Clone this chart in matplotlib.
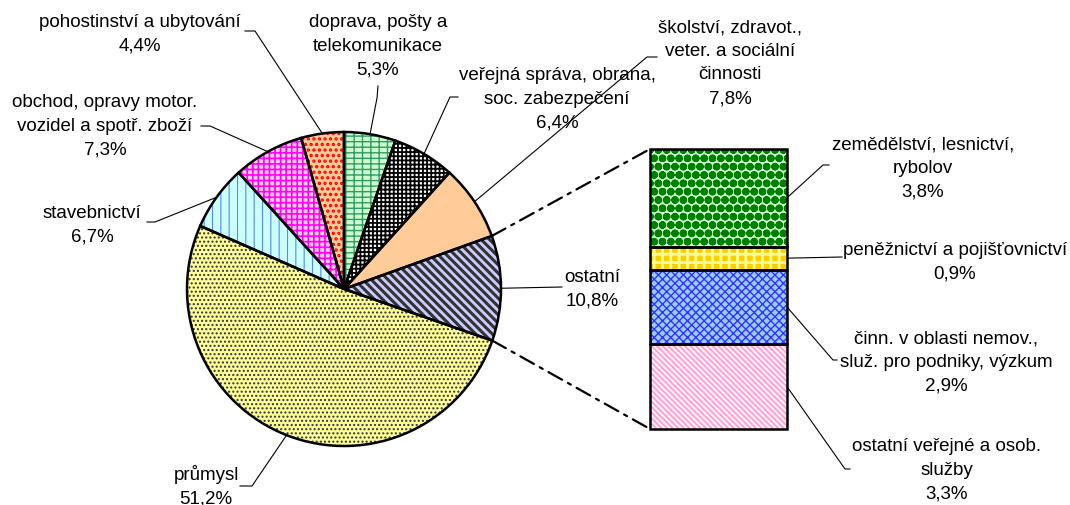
import matplotlib
matplotlib.use('Agg')
import matplotlib.pyplot as plt
from matplotlib.patches import ConnectionPatch
import numpy as np

plt.rcParams['font.family'] = ['Liberation Sans', 'DejaVu Sans']
plt.rcParams['hatch.linewidth'] = 1.2

# ---------------- data ----------------
pie_labels = ["doprava, pošty a\ntelekomunikace",
              "veřejná správa, obrana,\nsoc. zabezpečení",
              "školství, zdravot.,\nveter. a sociální\nčinnosti",
              "ostatní",
              "průmysl",
              "stavebnictví",
              "obchod, opravy motor.\nvozidel a spotř. zboží",
              "pohostinství a ubytování"]
pie_values = [5.3, 6.4, 7.8, 10.8, 51.2, 6.7, 7.3, 4.4]

bar_labels = ["zemědělství, lesnictví,\nrybolov",
              "peněžnictví a pojišťovnictví",
              "činn. v oblasti nemov.,\nsluž. pro podniky, výzkum",
              "ostatní veřejné a osob.\nslužby"]
bar_values = [3.8, 0.9, 2.9, 3.3]   # top to bottom

# ---------------- styles ----------------
pie_face = ['#CCFFCC', '#FFFFFF', '#FFCC99', '#CCCCFF', '#FFFF99', '#CCFFFF', '#FFCCE6', '#FFCC99']
pie_hatch = ['++-', '++++', None, '\\\\\\\\', '....', '||', '+++', '...']
pie_hcol = ['#339966', '#000000', '#FFCC99', '#333333', '#333333', '#5588FF', '#FF00FF', '#FF0000']
pie_hlw = [1.0, 1.3, 1.0, 2.2, 1.0, 0.8, 1.2, 1.6]

bar_face = ['#CCFFCC', '#FFCC00', '#99CCFF', '#FFF0F8']
bar_hatch = ['OO..', '++', 'xxxx', '\\\\\\\\\\\\']
bar_hcol = ['#008000', '#FFFF99', '#3333FF', '#FF99CC']
bar_hlw = [1.3, 2.0, 1.0, 1.2]

# label layout in pixel coordinates: (x centre, first baseline, leader elbow points)
pie_layout = [(378, 27, [(378, 87), (377, 99)]),
              (557, 80, [(458, 98), (450, 98)]),
              (730, 32, [(657, 58), (647, 58)]),
              (592, 282, [(562, 288)]),
              (206, 480, [(240, 487), (252, 487)]),
              (92, 218, [(147, 223), (155, 223)]),
              (105, 107, [(201, 127), (210, 127)]),
              (140, 27, [(245, 32), (255, 32)])]
bar_layout = [(923, 149, [(829, 166), (823, 166)]),
              (955, 255, [(842, 258)]),
              (946, 343, [(837, 361), (833, 361)]),
              (947, 451, [(850, 470), (845, 470)])]

W, H = 1070, 506
FS = 13.5
LINE = 23.7

fig = plt.figure(figsize=(W / 100, H / 100), dpi=100)
ax = fig.add_axes([0, 0, 1, 1])

center = (344, 290)
radius = 157
common = dict(startangle=-90, counterclock=True, center=center, radius=radius)

# fill
wedges, _ = ax.pie(pie_values, colors=pie_face, wedgeprops=dict(linewidth=0), **common)
# hatch overlay
hw, _ = ax.pie(pie_values, wedgeprops=dict(fill=False, linewidth=0), **common)
for w, h, c, lw in zip(hw, pie_hatch, pie_hcol, pie_hlw):
    w.set_edgecolor(c)
    w.set_linewidth(0)
    if h:
        w.set_hatch(h)
        if hasattr(w, 'set_hatch_linewidth'):
            w.set_hatch_linewidth(lw)
# outline
ow, _ = ax.pie(pie_values, wedgeprops=dict(fill=False, edgecolor='black', linewidth=1.8), **common)

ax.set_aspect('auto')
ax.set_xlim(0, W)
ax.set_ylim(H, 0)
ax.axis('off')


def fmt(v):
    return f"{v:.1f}".replace('.', ',') + '%'


def draw_label(x, y0, text):
    for i, line in enumerate(text.split('\n')):
        ax.text(x, y0 + i * LINE, line, ha='center', va='baseline', fontsize=FS, color='black')


for w, lab, v, (x, y0, elbow) in zip(wedges, pie_labels, pie_values, pie_layout):
    draw_label(x, y0, lab + '\n' + fmt(v))
    th = np.deg2rad((w.theta1 + w.theta2) / 2)
    edge = (w.center[0] + w.r * np.cos(th), w.center[1] + w.r * np.sin(th))
    pts = elbow + [edge]
    ax.plot([p[0] for p in pts], [p[1] for p in pts], color='black', lw=0.8)

# ---------------- bar of pie ----------------
bx0, bx1, by0, by1 = 650, 787, 150, 430
ax2 = fig.add_axes([bx0 / W, (H - by1) / H, (bx1 - bx0) / W, (by1 - by0) / H])
total = sum(bar_values)
bottoms = total - np.cumsum(bar_values)
ax2.bar(0, bar_values, bottom=bottoms, width=1, color=bar_face, linewidth=0)
hb = ax2.bar(0, bar_values, bottom=bottoms, width=1, fill=False, linewidth=0)
for r, h, c, lw in zip(hb, bar_hatch, bar_hcol, bar_hlw):
    r.set_edgecolor(c)
    r.set_linewidth(0)
    r.set_hatch(h)
    if hasattr(r, 'set_hatch_linewidth'):
        r.set_hatch_linewidth(lw)
ax2.bar(0, bar_values, bottom=bottoms, width=1, fill=False, edgecolor='black', linewidth=1.8, clip_on=False)
ax2.set_xlim(-0.5, 0.5)
ax2.set_ylim(0, total)
ax2.axis('off')

for lab, v, b, (x, y0, elbow) in zip(bar_labels, bar_values, bottoms, bar_layout):
    draw_label(x, y0, lab + '\n' + fmt(v))
    p = ax.transData.inverted().transform(ax2.transData.transform((0.5, b + v / 2)))
    pts = elbow + [tuple(p)]
    ax.plot([q[0] for q in pts], [q[1] for q in pts], color='black', lw=0.8)

# connector lines (dash-dot) from the "ostatní" wedge to the bar
ws = wedges[3]
for ang, yb in ((ws.theta1, total), (ws.theta2, 0)):
    a = np.deg2rad(ang)
    pa = (ws.center[0] + ws.r * np.cos(a), ws.center[1] + ws.r * np.sin(a))
    con = ConnectionPatch(xyA=pa, coordsA=ax.transData, xyB=(-0.5, yb), coordsB=ax2.transData,
                          color='black', lw=1.6, linestyle=(0, (7, 3, 1.5, 3)))
    fig.add_artist(con)

fig.savefig('out.png', dpi=100, facecolor='white')
